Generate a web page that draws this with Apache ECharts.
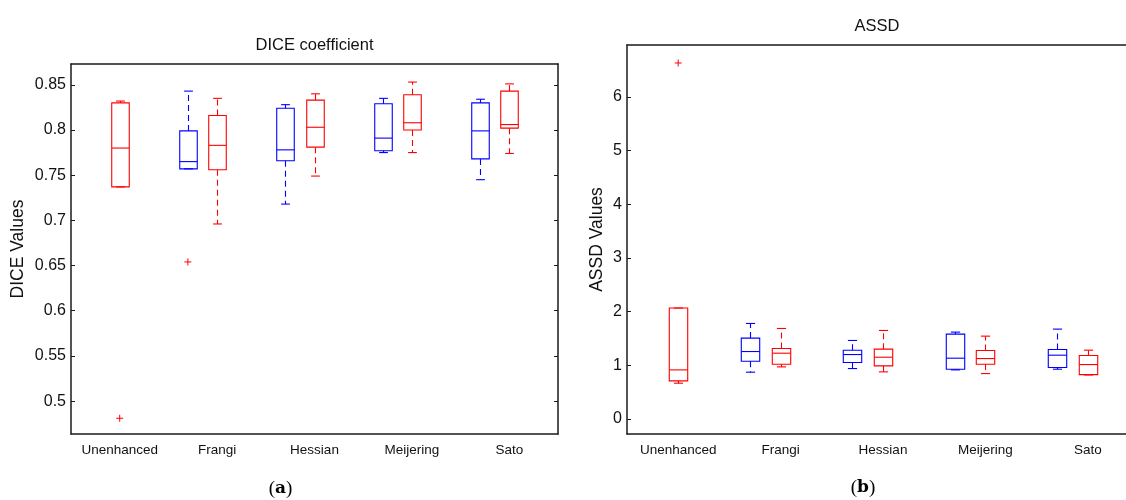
<!DOCTYPE html>
<html>
<head>
<meta charset="utf-8">
<script src="https://cdn.jsdelivr.net/npm/echarts@6/dist/echarts.min.js"></script>
<style>
  html, body { margin: 0; padding: 0; background: #fff; }
  #chart { width: 1126px; height: 500px; }
</style>
</head>
<body>
<div id="chart"></div>
<script>
// Method groups along the x axis
const categories = ['Unenhanced', 'Frangi', 'Hessian', 'Meijering', 'Sato'];

// Box statistics per group: [lower whisker, Q1, median, Q3, upper whisker]
const diceBlue = [null,
  [0.757, 0.757, 0.765, 0.799, 0.843],
  [0.718, 0.766, 0.778, 0.824, 0.828],
  [0.775, 0.777, 0.791, 0.829, 0.835],
  [0.745, 0.768, 0.799, 0.830, 0.834]];
const diceRed = [
  [0.737, 0.737, 0.780, 0.830, 0.832],
  [0.696, 0.756, 0.783, 0.816, 0.835],
  [0.749, 0.781, 0.803, 0.833, 0.840],
  [0.775, 0.800, 0.808, 0.839, 0.853],
  [0.774, 0.802, 0.806, 0.843, 0.851]];
const diceBlueOutliers = [[], [0.654], [], [], []];
const diceRedOutliers = [[0.481], [], [], [], []];

const assdBlue = [null,
  [0.872, 1.077, 1.257, 1.507, 1.780],
  [0.940, 1.052, 1.201, 1.282, 1.463],
  [0.915, 0.928, 1.133, 1.581, 1.619],
  [0.928, 0.958, 1.189, 1.294, 1.675]];
const assdRed = [
  [0.667, 0.710, 0.915, 2.067, 2.067],
  [0.971, 1.021, 1.226, 1.313, 1.687],
  [0.878, 0.990, 1.151, 1.301, 1.650],
  [0.846, 1.021, 1.126, 1.276, 1.544],
  [0.820, 0.827, 1.014, 1.182, 1.282]];
const assdBlueOutliers = [[], [], [], [], []];
const assdRedOutliers = [[6.635], [], [], [], []];

// Tick values on the y axes
const diceTicks = [0.5, 0.55, 0.6, 0.65, 0.7, 0.75, 0.8, 0.85];
const assdTicks = [0, 1, 2, 3, 4, 5, 6];

const BLUE = '#0000ff';
const RED = '#ff0000';
const BLUE_SHIFT = -0.3;   // blue box sits left of the group position
const BOX_W = 0.18;        // box width in x units
const FONT = '"Liberation Sans", Arial, Helvetica, sans-serif';
const AXIS_COLOR = '#1a1a1a';

function boxData(stats, shift) {
  const out = [];
  stats.forEach((s, i) => { if (s) out.push([i + 1 + shift].concat(s)); });
  return out;
}
function outlierData(list, shift) {
  const out = [];
  list.forEach((vals, i) => vals.forEach(v => out.push([i + 1 + shift, v])));
  return out;
}

function boxRenderer(color) {
  return function (params, api) {
    const x = api.value(0);
    const lo = api.coord([x, api.value(1)]);
    const q1 = api.coord([x, api.value(2)]);
    const md = api.coord([x, api.value(3)]);
    const q3 = api.coord([x, api.value(4)]);
    const hi = api.coord([x, api.value(5)]);
    const w = api.size([BOX_W, 0])[0];
    const cx = Math.round(md[0]) + 0.5;
    const half = w / 2, cap = w / 4;
    const solid = { stroke: color, lineWidth: 1.1, fill: null };
    const dashed = { stroke: color, lineWidth: 1.1, lineDash: [6, 4], fill: null };
    const children = [];
    if (hi[1] < q3[1] - 0.5) {
      children.push({ type: 'line', shape: { x1: cx, y1: q3[1], x2: cx, y2: hi[1] }, style: dashed });
    }
    if (lo[1] > q1[1] + 0.5) {
      children.push({ type: 'line', shape: { x1: cx, y1: q1[1], x2: cx, y2: lo[1] }, style: dashed });
    }
    children.push({ type: 'line', shape: { x1: cx - cap, y1: hi[1], x2: cx + cap, y2: hi[1] }, style: solid });
    children.push({ type: 'line', shape: { x1: cx - cap, y1: lo[1], x2: cx + cap, y2: lo[1] }, style: solid });
    children.push({ type: 'rect', shape: { x: cx - half, y: q3[1], width: w, height: q1[1] - q3[1] }, style: solid });
    children.push({ type: 'line', shape: { x1: cx - half, y1: md[1], x2: cx + half, y2: md[1] }, style: solid });
    return { type: 'group', children: children };
  };
}

function plusRenderer(color) {
  return function (params, api) {
    const p = api.coord([api.value(0), api.value(1)]);
    const r = 3.5;
    const st = { stroke: color, lineWidth: 1, fill: null };
    return {
      type: 'group',
      children: [
        { type: 'line', shape: { x1: p[0] - r, y1: p[1], x2: p[0] + r, y2: p[1] }, style: st },
        { type: 'line', shape: { x1: p[0], y1: p[1] - r, x2: p[0], y2: p[1] + r }, style: st }
      ]
    };
  };
}

// The second panel runs past the right edge of the page, so bounds are not clamped
const grids = [
  { left: 71, top: 64, width: 487, height: 370, outerBoundsMode: 'none' },
  { left: 627, top: 45, width: 512, height: 389, outerBoundsMode: 'none' }
];

function bottomAxis(gi) {
  return {
    gridIndex: gi, type: 'value', position: 'bottom', min: 0.5, max: 5.5,
    axisLine: { show: true, onZero: false, lineStyle: { color: AXIS_COLOR, width: 1.5 } },
    axisTick: { show: false },
    splitLine: { show: false },
    axisLabel: {
      customValues: [1, 2, 3, 4, 5],
      formatter: v => categories[Math.round(v) - 1],
      color: '#111', fontFamily: FONT, fontSize: 13.5, margin: 9
    }
  };
}
function topAxis(gi) {
  return {
    gridIndex: gi, type: 'value', position: 'top', min: 0.5, max: 5.5,
    axisLine: { show: true, onZero: false, lineStyle: { color: AXIS_COLOR, width: 1.5 } },
    axisTick: { show: false }, axisLabel: { show: false }, splitLine: { show: false }
  };
}
function leftAxis(gi, min, max, ticks, name, gap) {
  return {
    gridIndex: gi, type: 'value', position: 'left', min: min, max: max,
    name: name, nameLocation: 'middle', nameRotate: 90, nameGap: gap,
    nameTextStyle: { color: '#111', fontFamily: FONT, fontSize: 17.5 },
    axisLine: { show: true, onZero: false, lineStyle: { color: AXIS_COLOR, width: 1.5 } },
    axisTick: { show: true, inside: true, length: 4, customValues: ticks, lineStyle: { color: AXIS_COLOR, width: 1 } },
    splitLine: { show: false },
    axisLabel: {
      customValues: ticks, formatter: v => String(+v.toFixed(2)),
      color: '#111', fontFamily: FONT, fontSize: 16, margin: 5
    }
  };
}
function rightAxis(gi, min, max, ticks) {
  return {
    gridIndex: gi, type: 'value', position: 'right', min: min, max: max,
    axisLine: { show: true, onZero: false, lineStyle: { color: AXIS_COLOR, width: 1.5 } },
    axisTick: { show: true, inside: true, length: 4, customValues: ticks, lineStyle: { color: AXIS_COLOR, width: 1 } },
    axisLabel: { show: false }, splitLine: { show: false }
  };
}

function boxSeries(xi, yi, stats, shift, color) {
  return {
    type: 'custom', xAxisIndex: xi, yAxisIndex: yi,
    renderItem: boxRenderer(color),
    encode: { x: 0, y: [1, 2, 3, 4, 5] },
    data: boxData(stats, shift), silent: true, clip: false
  };
}
function outlierSeries(xi, yi, list, shift, color) {
  return {
    type: 'custom', xAxisIndex: xi, yAxisIndex: yi,
    renderItem: plusRenderer(color),
    encode: { x: 0, y: 1 },
    data: outlierData(list, shift), silent: true, clip: false
  };
}

function caption(letter, x, y) {
  return {
    type: 'text', x: x, y: y,
    style: {
      text: '{p|(}{b|' + letter + '}{p|)}',
      align: 'center', verticalAlign: 'middle',
      rich: {
        p: { fontFamily: '"Liberation Serif", "DejaVu Serif", serif', fontSize: 19, fill: '#000' },
        b: { fontFamily: '"DejaVu Serif", "Liberation Serif", serif', fontSize: 17, fontWeight: 'bold', fill: '#000' }
      }
    }
  };
}

const chart = echarts.init(document.getElementById('chart'), null, { renderer: 'canvas' });
chart.setOption({
  animation: false,
  backgroundColor: '#ffffff',
  grid: grids,
  xAxis: [bottomAxis(0), topAxis(0), bottomAxis(1), topAxis(1)],
  yAxis: [
    leftAxis(0, 0.4636, 0.873, diceTicks, 'DICE Values', 44),
    rightAxis(0, 0.4636, 0.873, diceTicks),
    leftAxis(1, -0.28, 6.97, assdTicks, 'ASSD Values', 21),
    rightAxis(1, -0.28, 6.97, assdTicks)
  ],
  graphic: [
    { type: 'text', x: 314.5, y: 45.5, style: { text: 'DICE coefficient', align: 'center', verticalAlign: 'middle', font: '16.5px ' + FONT, fill: '#111' } },
    { type: 'text', x: 877, y: 26.5, style: { text: 'ASSD', align: 'center', verticalAlign: 'middle', font: '16.5px ' + FONT, fill: '#111' } },
    caption('a', 280.5, 489),
    caption('b', 863, 488)
  ],
  series: [
    boxSeries(0, 0, diceBlue, BLUE_SHIFT, BLUE),
    boxSeries(0, 0, diceRed, 0, RED),
    outlierSeries(0, 0, diceBlueOutliers, BLUE_SHIFT, RED),
    outlierSeries(0, 0, diceRedOutliers, 0, RED),
    boxSeries(2, 2, assdBlue, BLUE_SHIFT, BLUE),
    boxSeries(2, 2, assdRed, 0, RED),
    outlierSeries(2, 2, assdBlueOutliers, BLUE_SHIFT, RED),
    outlierSeries(2, 2, assdRedOutliers, 0, RED)
  ]
});
</script>
</body>
</html>
